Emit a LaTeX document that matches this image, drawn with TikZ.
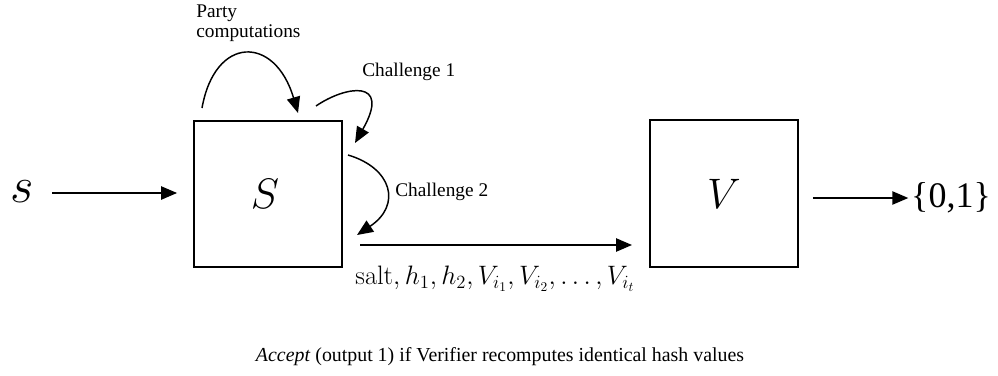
\RequirePackage{fix-cm}
\documentclass[tikz,border=0pt]{standalone}
\usepackage[no-math]{fontspec}
\setmainfont{Liberation Serif}
\usetikzlibrary{arrows.meta}

\tikzset{
  pbox/.style={draw, line width=1.4pt, minimum width=111pt, minimum height=110pt, inner sep=0pt},
  flow/.style={line width=1.1pt, -{Triangle[length=12pt, width=10pt]}},
  lbl/.style={inner sep=0pt, font=\fontsize{14.5}{15}\selectfont},
  bigmath/.style={inner sep=0pt, font=\fontsize{32}{32}\selectfont},
}

\begin{document}
\begin{tikzpicture}[x=0.75pt, y=-0.75pt]
  \useasboundingbox (0,0) rectangle (998,375);

  % prover and verifier boxes
  \node[pbox] (Sbox) at (268,194) {};
  \node[bigmath] (Slbl) at (265,194) {$S$};
  \node[pbox, bigmath] (Vbox) at (724,193.5) {$V$};

  % input and output
  \node[inner sep=0pt, font=\fontsize{38}{38}\selectfont] (sin) at (22,192) {$s$};
  \node[inner sep=0pt, font=\fontsize{27}{27}\selectfont] (out) at (951,198) {\{0,1\}};

  % labels
  \node[lbl, align=left, anchor=west] (party) at (196,23) {Party\\computations};
  \node[lbl, anchor=west] (ch1) at (362,72) {Challenge 1};
  \node[lbl, anchor=west] (ch2) at (395,192) {Challenge 2};
  \node[inner sep=0pt, font=\fontsize{20}{20}\selectfont] (msg) at (495,279)
    {$\mathrm{salt}, h_1, h_2, V_{i_1}, V_{i_2}, \ldots, V_{i_t}$};
  \node[inner sep=0pt, font=\fontsize{14.9}{15}\selectfont] (accept) at (500,357)
    {\textit{Accept} (output 1) if Verifier recomputes identical hash values};

  % end points of the message arrow
  \coordinate (msgA) at (360,245);
  \coordinate (msgB) at (632,245);
  \coordinate (inA) at (52,193);

  % straight connectors
  \draw[flow, shorten >=12pt] (inA) -- (inA -| Sbox.west);
  \draw[flow] (msgA) -- (msgB);
  \draw[flow, shorten <=10.5pt, shorten >=2pt] (Vbox.east |- out.west) -- (out.west);

  % curved interaction arrows
  \coordinate (p0) at (202,108);
  \coordinate (p1) at (298,113);
  \draw[flow] (p0) .. controls (215,35) and (275,35) .. (p1);

  \coordinate (c0) at (316,106);
  \coordinate (c1) at (355,143);
  \draw[flow] (c0) .. controls (345,86) and (392,78) .. (c1);

  \coordinate (d0) at (348,155);
  \coordinate (d1) at (357,235);
  \draw[flow] (d0) .. controls (392,168) and (402,205) .. (d1);
\end{tikzpicture}
\end{document}
